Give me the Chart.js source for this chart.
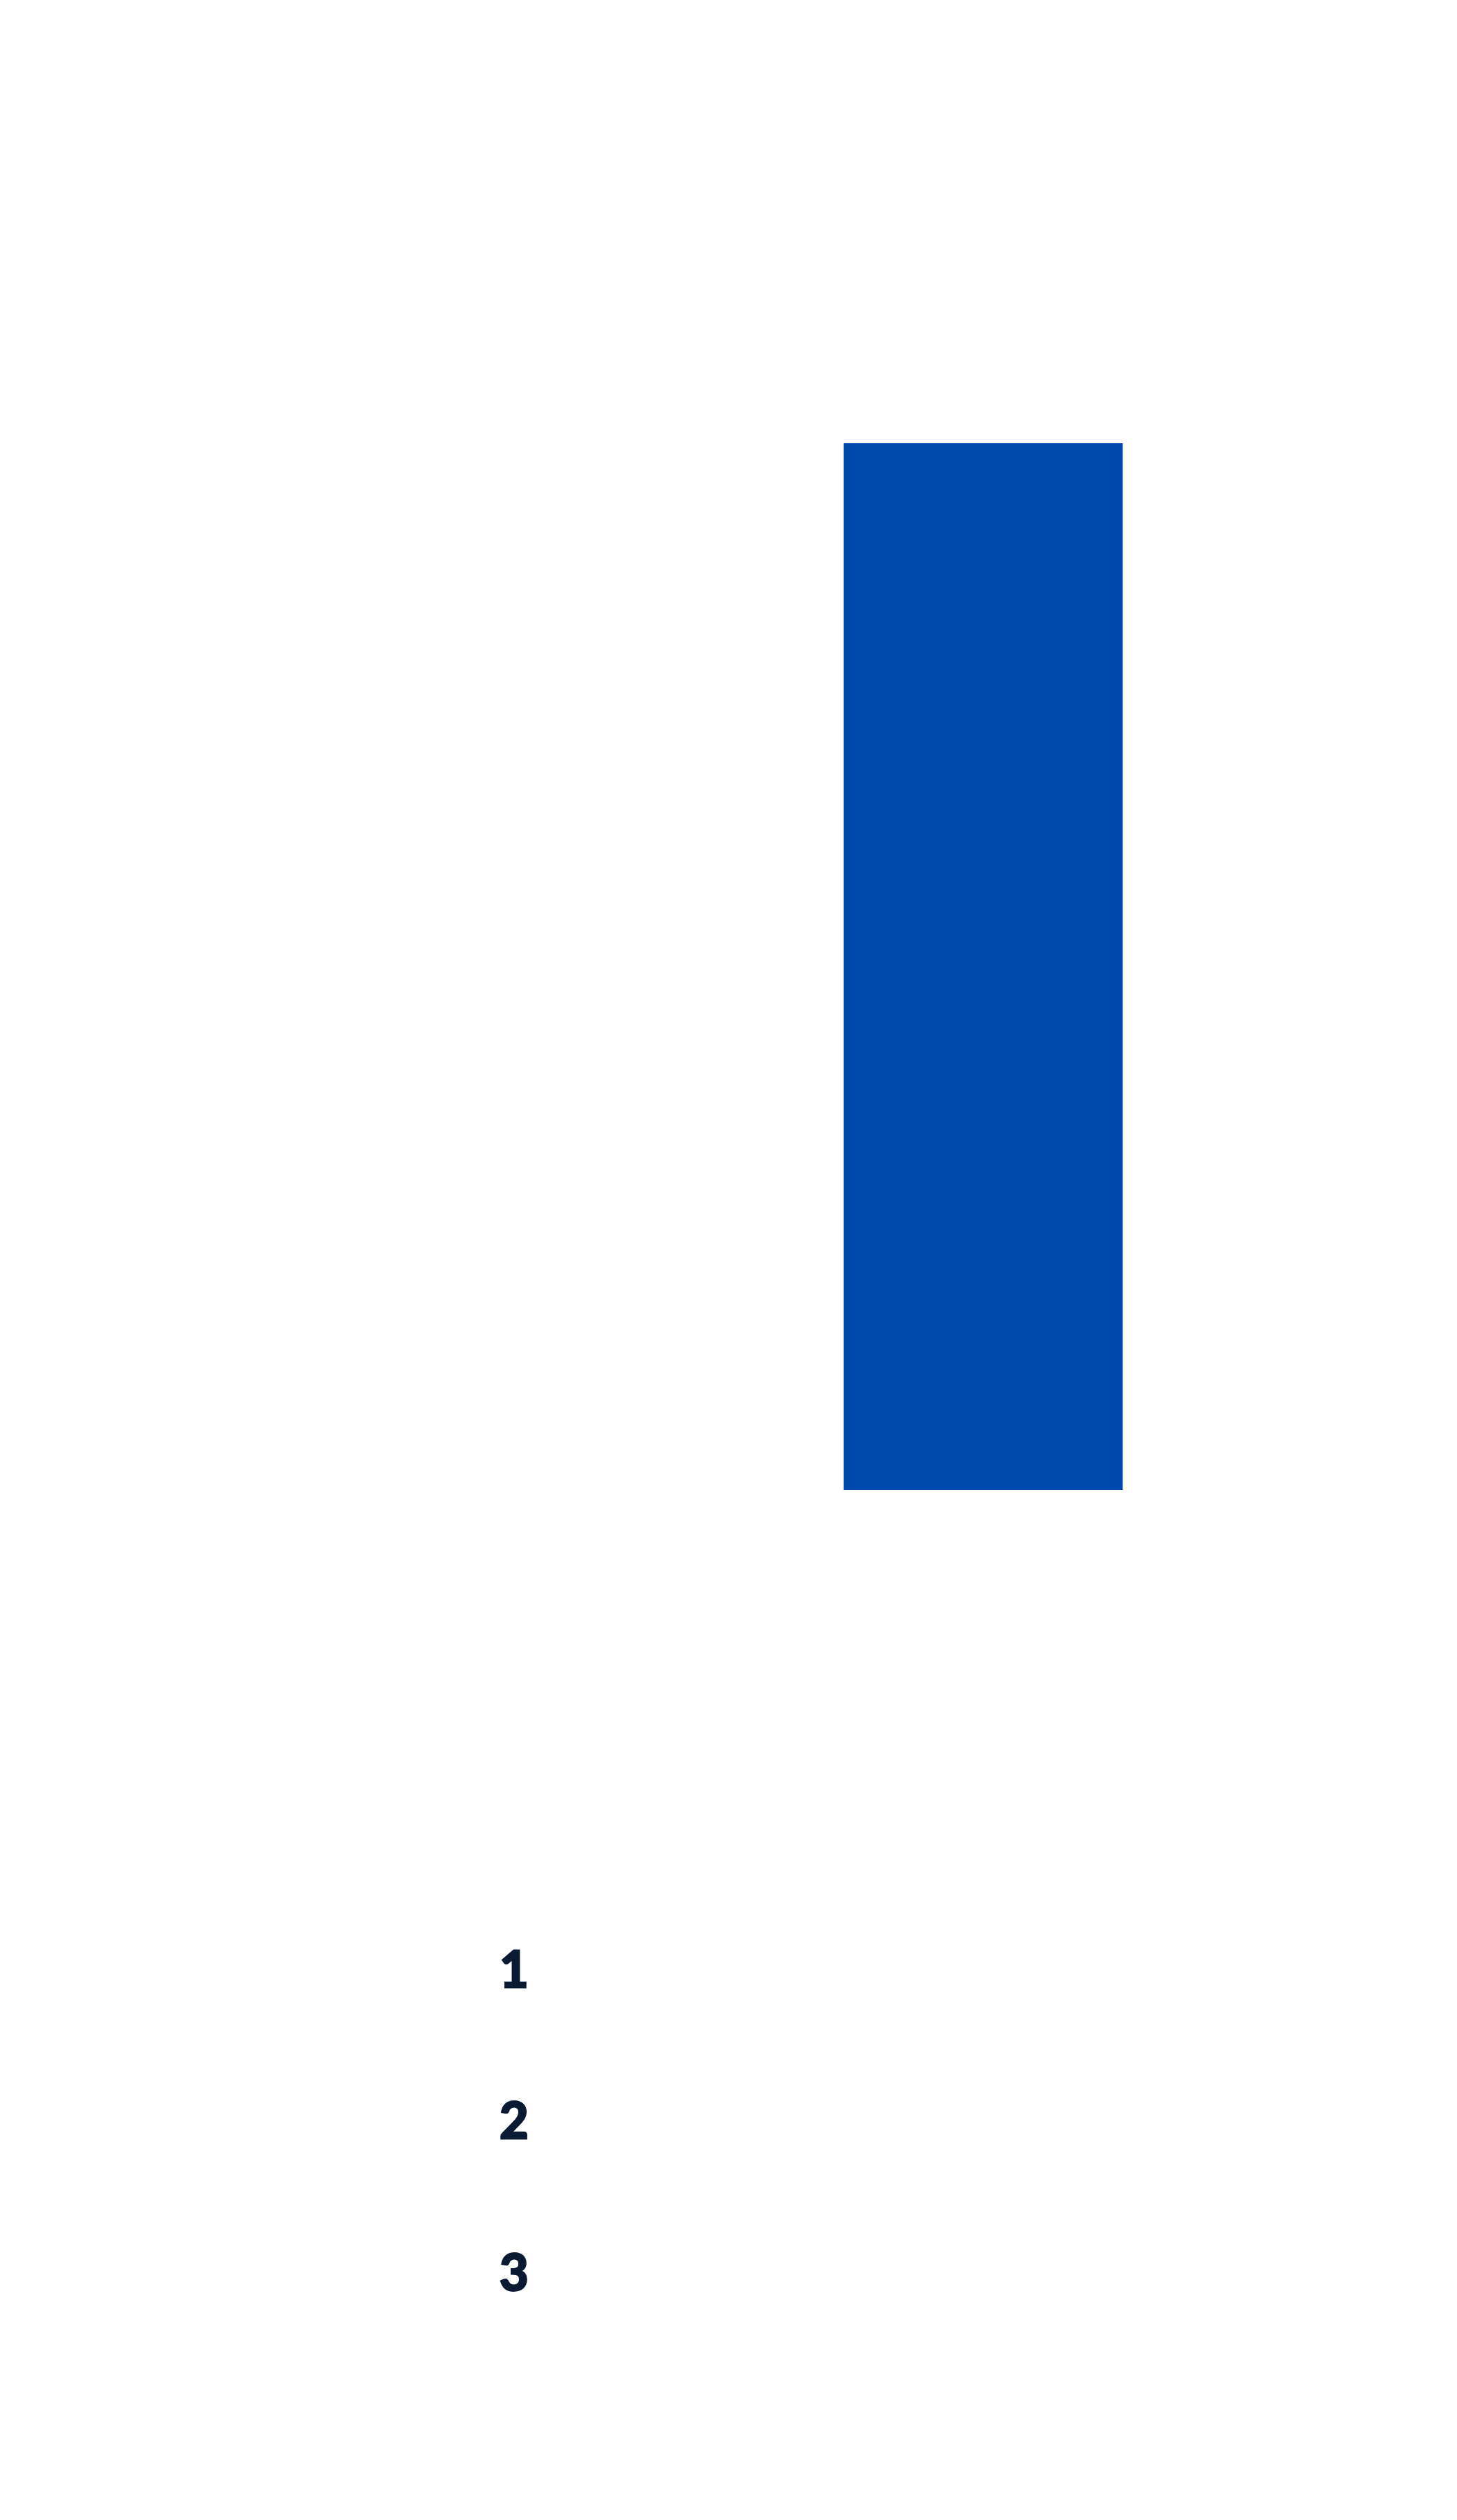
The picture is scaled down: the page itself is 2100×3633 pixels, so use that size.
<!DOCTYPE html>
<html>
<head>
<meta charset="utf-8">
<script src="https://cdn.jsdelivr.net/npm/chart.js@4"></script>
<style>
    html, body { margin: 0; padding: 0; background: #ffffff; }
    canvas { display: block; }
</style>
</head>
<body>
<canvas id="rankChart" width="2100" height="3633"></canvas>
<script>
const rankLabels = ['1', '2', '3'];
const categories = [rankLabels, ''];
const barValues = [null, 1];

(() => {
    const chartEl = document.getElementById('rankChart');

    if (!chartEl || typeof Chart === 'undefined') {
        return;
    }

    new Chart(chartEl.getContext('2d'), {
        type: 'bar',
        data: {
            labels: categories,
            datasets: [
                {
                    data: barValues,
                    backgroundColor: '#004AAD',
                    borderWidth: 0,
                    categoryPercentage: 1,
                    barPercentage: 0.595,
                },
            ],
        },
        options: {
            responsive: false,
            animation: false,
            devicePixelRatio: 1,
            layout: {
                padding: { top: 639, left: 403, right: 345, bottom: 0 },
            },
            plugins: {
                legend: { display: false },
                tooltip: { enabled: false },
            },
            scales: {
                y: {
                    display: false,
                    min: 0,
                    max: Math.max(...barValues.filter((v) => v !== null)),
                },
                x: {
                    grid: { display: false, drawTicks: false },
                    border: { display: false },
                    ticks: {
                        padding: 585,
                        color: '#0B1A33',
                        textStrokeColor: '#0B1A33',
                        textStrokeWidth: 3,
                        font: { family: 'Lato', size: 72, weight: 'bold', lineHeight: 3.03 },
                    },
                    // the rank list sits far below the bar, keep the axis box fixed
                    afterFit: (scale) => {
                        scale.height = 1485;
                    },
                },
            },
        },
    });
})();
</script>
</body>
</html>
